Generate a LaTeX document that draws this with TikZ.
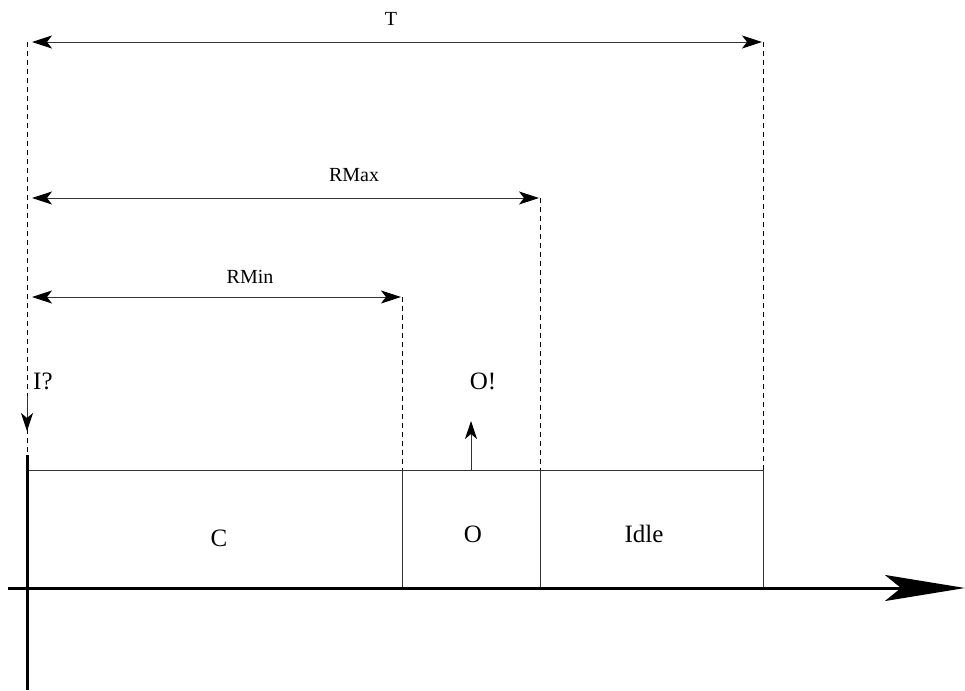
\documentclass[tikz,border=0pt]{standalone}
\usepackage{fontspec}
\setmainfont{Liberation Serif}
\usetikzlibrary{arrows.meta}
\begin{document}
\begin{tikzpicture}[x=1pt,y=-1pt,
  thin line/.style={draw=black!80,line width=0.9pt},
  dashline/.style={draw=black,line width=0.8pt,dash pattern=on 5pt off 4pt},
  dim/.style={thin line,shorten <=5pt,shorten >=1pt,
    {Stealth[length=20pt,width=13pt,inset=5pt,black]}-{Stealth[length=20pt,width=13pt,inset=5pt,black]}},
  evt/.style={thin line,-{Stealth[length=18pt,width=12pt,inset=5pt,black]}},
  axis/.style={draw=black,line width=3pt},
  smalllbl/.style={inner sep=0pt,anchor=base,font=\fontsize{20}{24}\selectfont},
  biglbl/.style={inner sep=0pt,anchor=base,font=\fontsize{25}{30}\selectfont}]
\useasboundingbox (0,0) rectangle (965,690);
% coordinates
\coordinate (o) at (27,588);
\coordinate (vb) at (27,690);
\coordinate (vt) at (27,455);
\coordinate (hl) at (8,588);
\coordinate (hr) at (965,588);
\coordinate (b0) at (27,470);
\coordinate (b1t) at (402,470); \coordinate (b1b) at (402,588);
\coordinate (b2t) at (540,470); \coordinate (b2b) at (540,588);
\coordinate (b3t) at (763,470); \coordinate (b3b) at (763,588);
\coordinate (d0t) at (27,42);
\coordinate (d3t) at (763,42);
\coordinate (d2t) at (540,198);
\coordinate (d1t) at (402,297);
\coordinate (a0) at (27,198);
\coordinate (a1) at (27,297);
\coordinate (is) at (27,396);
\coordinate (ie) at (27,431);
\coordinate (os) at (471,470);
\coordinate (oe) at (471,421);
% box
\draw[thin line] (b0) -- (b3t);
\draw[thin line] (b1t) -- (b1b);
\draw[thin line] (b2t) -- (b2b);
\draw[thin line] (b3t) -- (b3b);
% dashed guides
\draw[dashline] (d0t) -- (vt);
\draw[dashline] (d3t) -- (b3t);
\draw[dashline] (d2t) -- (b2t);
\draw[dashline] (d1t) -- (b1t);
% dimension arrows
\draw[dim] (d0t) -- (d3t);
\draw[dim] (a0) -- (d2t);
\draw[dim] (a1) -- (d1t);
% events
\draw[evt] (is) -- (ie);
\draw[evt] (os) -- (oe);
% axes
\draw[axis] (vt) -- (vb);
\draw[axis,-{Stealth[length=80pt,width=26pt,inset=16pt]}] (hl) -- (hr);
% labels
\node[smalllbl] (lT) at (391,26) {T};
\node[smalllbl] (lRMax) at (354,181) {RMax};
\node[smalllbl] (lRMin) at (250,283) {RMin};
\node[biglbl,anchor=base west] (lI) at (33,389) {I?};
\node[biglbl] (lO2) at (483,389) {O!};
\node[biglbl] (lC) at (219,546) {C};
\node[biglbl] (lO) at (473,542) {O};
\node[biglbl] (lIdle) at (644,542) {Idle};
\end{tikzpicture}
\end{document}
